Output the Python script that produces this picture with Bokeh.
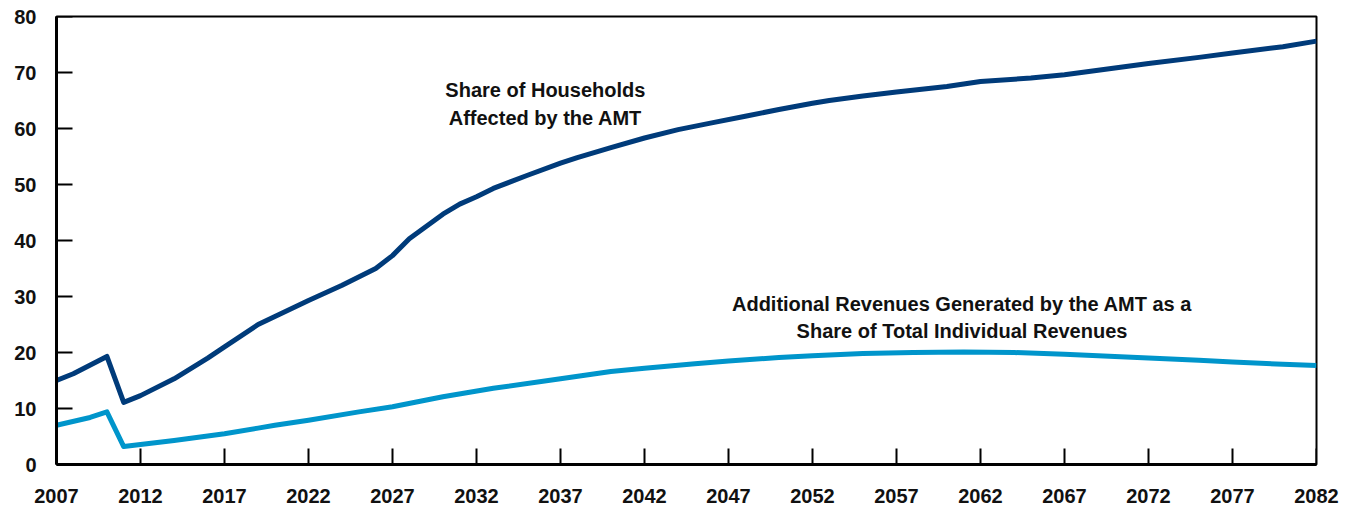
from bokeh.plotting import figure
from bokeh.models import Range1d, FixedTicker
from bokeh.core.properties import value
from bokeh.embed import file_html
from bokeh.resources import INLINE

# ---- data ----
hh_years = [2007, 2008, 2010, 2011, 2012, 2014, 2016, 2017, 2019, 2022, 2024, 2026,
            2027, 2028, 2030, 2031, 2032, 2033, 2035, 2037, 2038, 2040, 2042, 2044,
            2046, 2048, 2050, 2052, 2053, 2055, 2057, 2060, 2062, 2065, 2067, 2070,
            2072, 2075, 2077, 2080, 2082]
hh_share = [15.0, 16.2, 19.3, 11.1, 12.3, 15.3, 19.0, 21.0, 25.0, 29.3, 32.0, 35.0,
            37.3, 40.3, 44.7, 46.5, 47.8, 49.3, 51.6, 53.8, 54.8, 56.6, 58.3, 59.8,
            61.0, 62.2, 63.4, 64.5, 65.0, 65.8, 66.5, 67.5, 68.4, 69.0, 69.6, 70.8,
            71.6, 72.7, 73.5, 74.6, 75.6]

rev_years = [2007, 2009, 2010, 2011, 2014, 2017, 2019, 2020, 2022, 2025, 2027, 2030,
             2033, 2037, 2040, 2042, 2045, 2047, 2050, 2052, 2055, 2058, 2061, 2064,
             2067, 2070, 2072, 2075, 2077, 2080, 2082]
rev_share = [7.0, 8.4, 9.4, 3.2, 4.3, 5.5, 6.5, 7.0, 7.9, 9.4, 10.3, 12.1,
             13.6, 15.3, 16.6, 17.2, 18.0, 18.5, 19.1, 19.4, 19.8, 20.0, 20.1, 20.0,
             19.7, 19.3, 19.0, 18.6, 18.3, 17.9, 17.7]

x_ticks = [2007, 2012, 2017, 2022, 2027, 2032, 2037, 2042, 2047, 2052, 2057, 2062,
           2067, 2072, 2077, 2082]
x_tick_labels = [str(t) for t in x_ticks]
y_ticks = [0, 10, 20, 30, 40, 50, 60, 70, 80]
y_tick_labels = [str(t) for t in y_ticks]

hh_label = ["Share of Households", "Affected by the AMT"]
rev_label = ["Additional Revenues Generated by the AMT as a",
             "Share of Total Individual Revenues"]

FONT = "Liberation Sans"
DARK = "#003B7A"
LIGHT = "#0095CB"
X0, X1, Y0, Y1 = 2007, 2082, 0, 80
FRAME_W, FRAME_H = 1260, 448
TICK_PX = 16

p = figure(width=1344, height=510, output_backend="svg", toolbar_location=None,
           x_range=Range1d(X0, X1), y_range=Range1d(Y0, Y1),
           min_border_left=56, min_border_top=16, min_border_right=28,
           min_border_bottom=46)
p.background_fill_color = "white"
p.border_fill_color = "white"
p.outline_line_color = "black"
p.outline_line_width = 2
p.xgrid.visible = False
p.ygrid.visible = False

for ax in (p.xaxis[0], p.yaxis[0]):
    ax.axis_line_width = 3
    ax.axis_line_color = "black"
    ax.major_tick_in = 0
    ax.major_tick_out = 0
    ax.minor_tick_line_color = None
    ax.major_label_text_font = FONT
    ax.major_label_text_font_style = "bold"
    ax.major_label_text_font_size = "20px"
    ax.major_label_text_color = "#111111"

p.xaxis.ticker = FixedTicker(ticks=x_ticks)
p.xaxis.major_label_overrides = dict(zip(x_ticks, x_tick_labels))
p.xaxis.major_label_standoff = 24
p.yaxis.ticker = FixedTicker(ticks=y_ticks)
p.yaxis.major_label_overrides = dict(zip(y_ticks, y_tick_labels))
p.yaxis.major_label_standoff = 20

# inward tick marks (16 px long) at the tick positions
dy = TICK_PX * (Y1 - Y0) / FRAME_H
dx = TICK_PX * (X1 - X0) / FRAME_W
p.segment(x0=x_ticks, y0=[Y0] * len(x_ticks), x1=x_ticks, y1=[Y0 + dy] * len(x_ticks),
          line_color="black", line_width=2)
p.segment(x0=[X0] * len(y_ticks), y0=y_ticks, x1=[X0 + dx] * len(y_ticks), y1=y_ticks,
          line_color="black", line_width=2)

p.line(hh_years, hh_share, line_color=DARK, line_width=5, line_join="round")
p.line(rev_years, rev_share, line_color=LIGHT, line_width=5, line_join="round")

p.text(x=[2036.1, 2036.1], y=[66.8, 61.9], text=hh_label,
       text_font=value(FONT), text_font_style="bold", text_font_size="20px",
       text_align="center", text_baseline="middle", text_color="#111111")
p.text(x=[2060.9, 2060.9], y=[28.7, 23.8], text=rev_label,
       text_font=value(FONT), text_font_style="bold", text_font_size="20px",
       text_align="center", text_baseline="middle", text_color="#111111")

open("out.html", "w").write(file_html(p, INLINE))
